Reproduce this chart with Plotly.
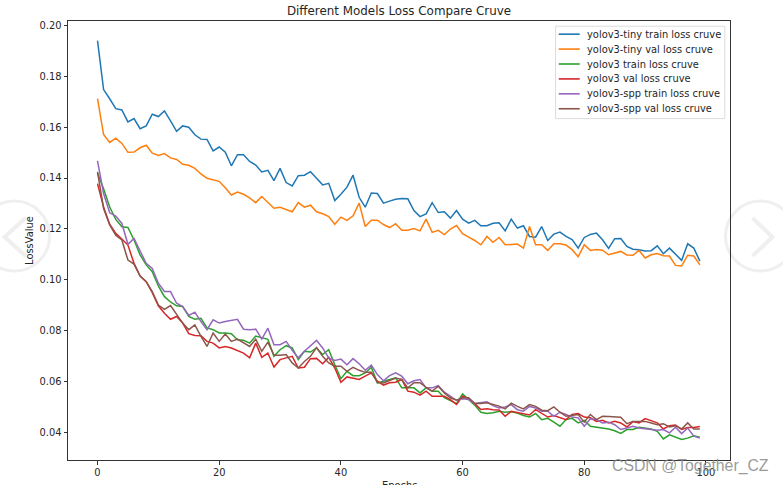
import plotly.graph_objects as go

epochs = list(range(100))

tiny_train = [.1941,.1748,.1712,.1673,.1668,.1621,.1634,.1594,.1605,.1651,.1642,.1664,.1625,.1584,.1605,.16,.157,.1553,.1552,.1507,
.1522,.1502,.1448,.1492,.1492,.1465,.1451,.1424,.143,.139,.1438,.1382,.1369,.1409,.1411,.1425,.1399,.1373,.1379,.1311,
.1336,.1364,.1411,.1324,.1285,.1341,.1339,.1301,.1309,.1316,.1319,.1318,.1272,.1248,.1259,.1303,.1264,.1267,.1242,.1272,
.1238,.1222,.1233,.1212,.1212,.1222,.1224,.1192,.1238,.1203,.1212,.117,.1167,.1209,.1154,.1179,.1187,.117,.1158,.1124,
.1166,.1178,.1183,.1157,.1123,.1161,.1162,.1131,.112,.1118,.1113,.1114,.1133,.1102,.1124,.1102,.1076,.1141,.1124,.1073]

tiny_val = [.1712,.1571,.154,.1557,.1536,.1501,.1502,.1519,.1529,.1498,.1489,.1496,.1479,.1473,.1454,.145,.1438,.1416,.1399,.1394,
.1387,.1362,.1333,.1345,.1336,.1322,.1303,.1327,.1303,.1281,.1285,.1275,.1267,.1303,.1285,.1293,.1267,.1259,.1248,.1218,
.1246,.1233,.1251,.1301,.1209,.1234,.1234,.1217,.1205,.122,.1194,.1194,.1201,.1192,.1238,.1186,.1194,.1177,.1199,.1213,
.1181,.1167,.1154,.1137,.117,.1147,.1166,.1137,.1139,.114,.1124,.1209,.1137,.1137,.1115,.1141,.1141,.1136,.1118,.109,
.1137,.1115,.1119,.1116,.1098,.1106,.1111,.1097,.1096,.1115,.1085,.1098,.1103,.1094,.1093,.1056,.1054,.1096,.1093,.1058]

v3_train = [.142,.1358,.1286,.1237,.1208,.1205,.1156,.1097,.1058,.1031,.0975,.0933,.0912,.0897,.0894,.0855,.0844,.0848,.081,.0803,
.079,.079,.0787,.0763,.0761,.075,.0778,.0772,.0765,.0698,.0724,.074,.0731,.0685,.0718,.0715,.0731,.0705,.0724,.0665,
.061,.0639,.0622,.0622,.0633,.0655,.0593,.06,.0607,.0613,.0574,.0574,.0574,.0554,.0574,.0561,.0561,.0535,.0524,.0512,
.055,.0528,.0506,.0478,.0473,.0476,.0482,.0478,.048,.0475,.0465,.0459,.0473,.0449,.0454,.0439,.0423,.0449,.0454,.0436,
.0446,.0423,.042,.0415,.0412,.0405,.0395,.041,.041,.0419,.0416,.0412,.0403,.0373,.0389,.0381,.0371,.0376,.0385,.038]

v3_val = [.1378,.1286,.1218,.1182,.116,.1136,.1064,.1014,.0992,.0949,.0897,.0868,.0844,.0855,.0829,.0787,.078,.0779,.0757,.075,
.0731,.0737,.0731,.0722,.0711,.0692,.075,.0694,.0711,.0656,.0685,.0692,.0698,.0652,.0655,.0689,.069,.0669,.0694,.0652,
.0596,.0617,.0611,.0607,.062,.0633,.06,.0585,.0594,.0596,.0607,.0561,.0557,.0545,.0561,.0541,.0541,.0541,.0528,.0509,
.0541,.0531,.0512,.0489,.0492,.0488,.0487,.0462,.0482,.0478,.0473,.0467,.0488,.0473,.0459,.0465,.0456,.0449,.0469,.0473,
.0459,.0456,.0442,.0446,.0436,.0442,.0436,.042,.0441,.0436,.0453,.0445,.0436,.0412,.0425,.0428,.041,.0418,.0418,.0422]

spp_train = [.1467,.1339,.1263,.125,.1221,.1139,.1162,.111,.1064,.1044,.0986,.0953,.0953,.0907,.0894,.0859,.0872,.0835,.0803,.0842,
.0829,.0835,.0839,.0844,.0805,.0803,.0805,.0766,.0809,.0744,.0744,.0757,.0722,.0692,.0718,.074,.0761,.0731,.0692,.0682,
.0687,.0665,.0689,.0669,.0643,.0663,.0626,.0602,.0622,.0633,.062,.059,.0602,.0607,.0574,.0574,.0583,.0557,.0541,.0525,
.0531,.0528,.0512,.0515,.0519,.0504,.0495,.0499,.0508,.0488,.0482,.0501,.0495,.0482,.0482,.0462,.0478,.0469,.0459,.0456,
.0423,.0452,.0449,.0436,.0439,.0429,.041,.0416,.0423,.0416,.0414,.041,.0407,.041,.0397,.0419,.0394,.0416,.0384,.0376]

spp_val = [.1424,.128,.1215,.1175,.1156,.1077,.1061,.1014,.0992,.0953,.09,.0883,.0898,.0862,.0829,.0803,.0822,.0777,.0737,.079,
.0757,.0786,.0757,.0766,.0753,.0737,.0766,.0718,.0754,.0702,.0702,.0705,.0672,.0652,.0678,.0698,.0733,.0698,.0672,.0659,
.0659,.0639,.0655,.0643,.0635,.0635,.0596,.0593,.0603,.0613,.0607,.0574,.0594,.0594,.0576,.0561,.058,.0554,.0535,.0525,
.0535,.0535,.0512,.0512,.0515,.0509,.0502,.0491,.0514,.0501,.0491,.0508,.0501,.0486,.0484,.0499,.0478,.0462,.0465,.0469,
.0439,.0469,.0449,.0462,.0461,.0459,.0458,.0433,.0442,.0442,.0442,.0436,.0429,.0433,.042,.0425,.0412,.0436,.0412,.0412]

series_names = ["yolov3-tiny train loss cruve", "yolov3-tiny val loss cruve",
                "yolov3 train loss cruve", "yolov3 val loss cruve",
                "yolov3-spp train loss cruve", "yolov3-spp val loss cruve"]
series_values = [tiny_train, tiny_val, v3_train, v3_val, spp_train, spp_val]
series_colors = ["#1f77b4", "#ff7f0e", "#2ca02c", "#d62728", "#9467bd", "#8c564b"]

W, H = 783, 485
L, R, T, B = 67.5, 730.5, 20.5, 460.5
FONT = "DejaVu Sans"
INK = "#262626"
FS = 9.9

def px(x):
    return (x - L) / (R - L)

def py(y):
    return (B - y) / (B - T)

fig = go.Figure()
for name, vals, col in zip(series_names, series_values, series_colors):
    fig.add_trace(go.Scatter(x=epochs, y=vals, mode="lines", name=name,
                             line=dict(color=col, width=1.5), showlegend=False))

# carousel overlay of the page the screenshot came from
shapes = []
for cx, tip, end in [(14, 4, 25), (761, 773, 753)]:
    shapes.append(dict(type="circle", xref="paper", yref="paper",
                       x0=px(cx - 35), x1=px(cx + 35), y0=py(236 + 35), y1=py(236 - 35),
                       line=dict(color="#efefef", width=3), layer="below"))
    shapes.append(dict(type="path", xref="paper", yref="paper",
                       path=f"M {px(end)} {py(218)} L {px(tip)} {py(237)} L {px(end)} {py(256)}",
                       line=dict(color="#efefef", width=4), layer="below"))

# legend box, tighter than the native legend's minimum row height allows
shapes.append(dict(type="rect", xref="paper", yref="paper", layer="above",
                   x0=px(555.8), x1=px(725.3), y0=py(118.3), y1=py(25.7),
                   line=dict(color="#dcdcdc", width=1), fillcolor="rgba(255,255,255,0.85)"))
annotations = []
for i, (name, col) in enumerate(zip(series_names, series_colors)):
    row_y = 33.7 + i * 14.95
    shapes.append(dict(type="line", xref="paper", yref="paper", layer="above",
                       x0=px(559), x1=px(580), y0=py(row_y), y1=py(row_y),
                       line=dict(color=col, width=1.6)))
    annotations.append(dict(text=name, xref="paper", yref="paper", x=px(585.5), y=py(row_y),
                            xanchor="left", yanchor="middle", showarrow=False,
                            font=dict(family=FONT, size=FS, color=INK)))

annotations.append(dict(text="CSDN @Together_CZ", xref="paper", yref="paper",
                        x=px(690.5), y=py(467), xanchor="center", yanchor="middle",
                        showarrow=False,
                        font=dict(family="Liberation Sans", size=15.8, color="rgba(135,135,135,0.85)")))
# x axis title, cut off by the bottom edge of the picture as in the reference
annotations.append(dict(text="Epochs", xref="paper", yref="paper",
                        x=0.5, y=py(486), xanchor="center", yanchor="middle", showarrow=False,
                        font=dict(family=FONT, size=FS, color=INK)))

fig.update_layout(
    width=W, height=H, autosize=False, showlegend=False,
    margin=dict(l=L, r=W - R, t=T, b=H - B, pad=0),
    paper_bgcolor="white", plot_bgcolor="white",
    font=dict(family=FONT, size=FS, color=INK),
    title=dict(text="Different Models Loss Compare Cruve", x=0.5, xref="paper",
               xanchor="center", y=(H - 11) / H, yanchor="middle",
               font=dict(family=FONT, size=11.9, color=INK)),
    xaxis=dict(range=[-4.85, 103.95], tickvals=[0, 20, 40, 60, 80, 100], automargin=False,
               ticks="outside", ticklen=3.5, tickwidth=0.8, tickcolor="#333",
               showgrid=False, zeroline=False, showline=True, linecolor="#333",
               linewidth=1, mirror=True),
    yaxis=dict(range=[0.029, 0.2018], tickvals=[.04, .06, .08, .10, .12, .14, .16, .18, .20],
               automargin=False,
               tickformat=".2f", ticks="outside", ticklen=3.5, tickwidth=0.8, tickcolor="#333",
               showgrid=False, zeroline=False, showline=True, linecolor="#333",
               linewidth=1, mirror=True,
               title=dict(text="LossValue", standoff=4, font=dict(size=FS))),
    shapes=shapes,
    annotations=annotations,
)

fig.write_html("out.html", config=dict(displayModeBar=False),
               post_script="document.body.style.margin='0';")
